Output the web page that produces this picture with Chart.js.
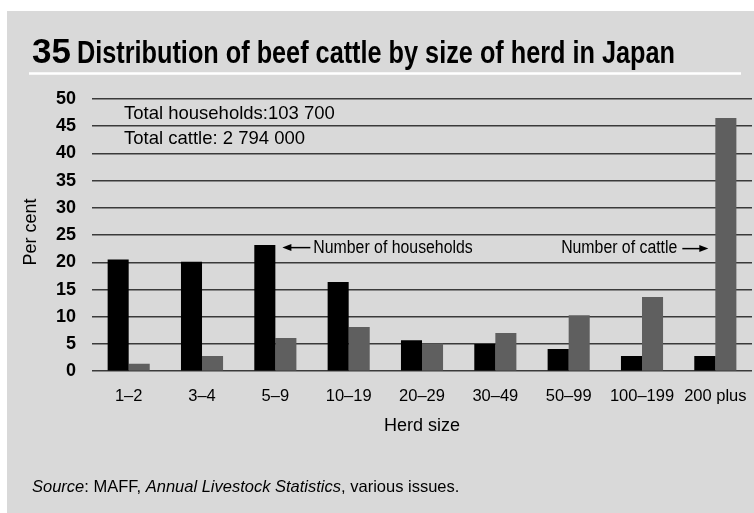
<!DOCTYPE html>
<html>
<head>
<meta charset="utf-8">
<title>Beef cattle by herd size</title>
<script src="https://cdn.jsdelivr.net/npm/chart.js@4"></script>
<style>
  body { margin: 0; background: #fff; }
  canvas { display: block; }
</style>
</head>
<body>
<canvas id="herdChart" width="754" height="513"></canvas>
<script>
// Herd size classes and share of households / cattle in each (per cent)
var herdSizes = ["1–2", "3–4", "5–9", "10–19", "20–29", "30–49", "50–99", "100–199", "200 plus"];
var households = [20.5, 20.1, 23.2, 16.4, 5.7, 5.0, 4.1, 2.8, 2.8];
var cattle = [1.35, 2.8, 6.1, 8.1, 5.1, 7.0, 10.3, 13.65, 46.5];

var figureNo = "35";
var titleText = "Distribution of beef cattle by size of herd in Japan";
var totals = ["Total households:103 700", "Total cattle: 2 794 000"];

var FONT = "'Liberation Sans', Arial, sans-serif";

// draw text, optionally squeezed horizontally (the print face is condensed)
function drawText(ctx, str, x, y, font, sx, align) {
    ctx.save();
    ctx.font = font;
    ctx.textAlign = align || "left";
    ctx.textBaseline = "alphabetic";
    ctx.translate(x, y);
    ctx.scale(sx || 1, 1);
    ctx.fillText(str, 0, 0);
    ctx.restore();
}

function arrow(ctx, x1, x2, y) {
    // line from x1 to x2, head at x2
    var dir = x2 > x1 ? 1 : -1;
    ctx.save();
    ctx.strokeStyle = "#000";
    ctx.fillStyle = "#000";
    ctx.lineWidth = 1.5;
    ctx.beginPath();
    ctx.moveTo(x1, y);
    ctx.lineTo(x2 - dir * 6, y);
    ctx.stroke();
    ctx.beginPath();
    ctx.moveTo(x2, y);
    ctx.lineTo(x2 - dir * 9, y - 3.5);
    ctx.lineTo(x2 - dir * 9, y + 3.5);
    ctx.closePath();
    ctx.fill();
    ctx.restore();
}

var panelPlugin = {
    id: "panel",
    beforeDraw: function (chart) {
        var ctx = chart.ctx;
        ctx.save();
        ctx.fillStyle = "#fff";
        ctx.fillRect(0, 0, chart.width, chart.height);
        ctx.fillStyle = "#d9d9d9";
        ctx.fillRect(7, 11, chart.width - 7, chart.height - 11);
        ctx.restore();
    },
    afterDraw: function (chart) {
        var ctx = chart.ctx;
        var x = chart.scales.x;
        var y = chart.scales.y;
        var area = chart.chartArea;
        ctx.save();
        ctx.fillStyle = "#000";

        // heading
        drawText(ctx, figureNo, 32, 63, "bold 35px " + FONT);
        drawText(ctx, titleText, 77, 62.5, "bold 31px " + FONT, 0.815);
        ctx.strokeStyle = "#fff";
        ctx.lineWidth = 2.5;
        ctx.beginPath();
        ctx.moveTo(29, 73.5);
        ctx.lineTo(741, 73.5);
        ctx.stroke();

        // totals in the top left of the plot
        drawText(ctx, totals[0], 124, 119, "18.5px " + FONT);
        drawText(ctx, totals[1], 124, 144, "18.5px " + FONT);

        // series labels with arrows
        var ay = y.getPixelForValue(22.7);
        var hx = x.getPixelForValue(2) + 7;
        arrow(ctx, hx + 28, hx, ay);
        drawText(ctx, "Number of households", hx + 31, ay + 5, "18px " + FONT, 0.88);
        var cx = x.getPixelForValue(8) - 7;
        arrow(ctx, cx - 26, cx, ay + 1);
        drawText(ctx, "Number of cattle", cx - 31, ay + 5, "18px " + FONT, 0.88, "right");

        // axis titles
        ctx.save();
        ctx.translate(36, (area.top + area.bottom) / 2 - 3);
        ctx.rotate(-Math.PI / 2);
        drawText(ctx, "Per cent", 0, 0, "18px " + FONT, 1, "center");
        ctx.restore();
        drawText(ctx, "Herd size", (area.left + area.right) / 2, 431, "18px " + FONT, 1, "center");

        // source note, mixed italic and roman
        var parts = [
            ["Source", "italic"],
            [": MAFF, ", ""],
            ["Annual Livestock Statistics", "italic"],
            [", various issues.", ""]
        ];
        var sx = 32;
        parts.forEach(function (p) {
            var f = (p[1] ? p[1] + " " : "") + "16.5px " + FONT;
            ctx.font = f;
            drawText(ctx, p[0], sx, 492, f);
            sx += ctx.measureText(p[0]).width;
        });
        ctx.restore();
    }
};

var ctx = document.getElementById("herdChart").getContext("2d");
var chart = new Chart(ctx, {
    type: "bar",
    data: {
        labels: herdSizes,
        datasets: [
            {
                label: "Number of households",
                backgroundColor: "#000000",
                data: households
            },
            {
                label: "Number of cattle",
                backgroundColor: "#5f5f5f",
                data: cattle
            }
        ]
    },
    options: {
        responsive: false,
        animation: false,
        layout: { padding: { top: 99, left: 40, right: 2, bottom: 92 } },
        datasets: { bar: { categoryPercentage: 0.574, barPercentage: 1 } },
        plugins: {
            legend: { display: false },
            tooltip: { enabled: false }
        },
        scales: {
            x: {
                grid: { display: false, drawTicks: false },
                border: { display: false },
                ticks: {
                    color: "#000",
                    padding: 15,
                    maxRotation: 0,
                    autoSkip: false,
                    font: { family: FONT, size: 16.5 }
                },
                // end labels fit inside the plot, no extra side padding needed
                afterFit: function (scale) {
                    scale.paddingLeft = 0;
                    scale.paddingRight = 0;
                }
            },
            y: {
                min: 0,
                max: 50,
                grid: { color: "#3a3a3a", lineWidth: 1.5, drawTicks: false },
                border: { display: false },
                ticks: {
                    stepSize: 5,
                    color: "#000",
                    padding: 16,
                    font: { family: FONT, size: 18, weight: "bold" }
                }
            }
        }
    },
    plugins: [panelPlugin]
});
</script>
</body>
</html>
